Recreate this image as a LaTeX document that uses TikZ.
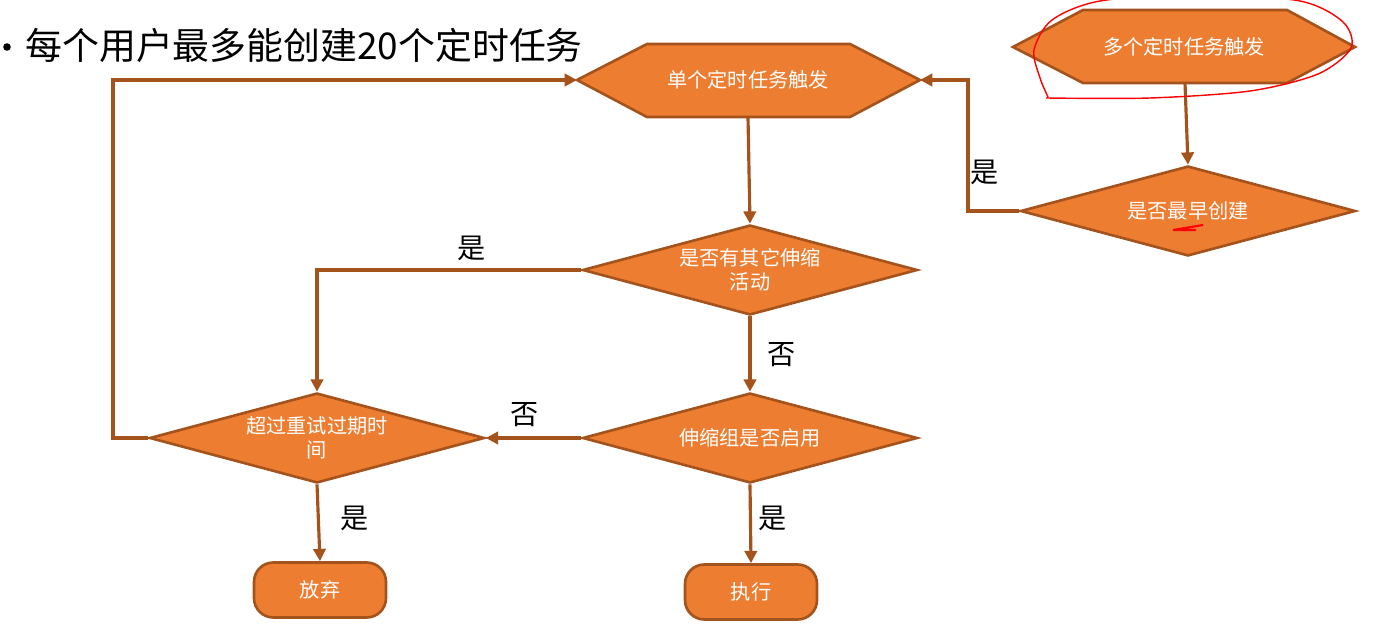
\documentclass[tikz,border=0pt]{standalone}
\usepackage{fontspec}
\setmainfont{Noto Sans CJK SC}
\usetikzlibrary{shapes.geometric,arrows.meta}

\definecolor{boxfill}{HTML}{ED7D31}
\definecolor{boxline}{HTML}{A5531C}

\tikzset{
  flow/.style={draw=boxline, line width=1.8pt, -{Triangle[length=7pt,width=7pt]}},
  shapeline/.style={draw=boxline, fill=boxfill, line width=1.5pt},
  decision/.style={diamond, shapeline, text=white, align=center, inner sep=0pt, shape aspect=4,
    font=\fontsize{11.5}{13.5}\selectfont, minimum width=6.7cm, minimum height=1.8cm},
  tasktext/.style={text=white, font=\fontsize{11.5}{13.5}\selectfont},
  endbox/.style={shapeline, rounded corners=11pt, text=white,
    font=\fontsize{11.5}{13.5}\selectfont, minimum width=2.64cm, minimum height=1.1cm},
  answer/.style={font=\fontsize{16}{18}\selectfont},
  scribble/.style={draw=red, line width=0.8pt}
}

\begin{document}
\begin{tikzpicture}[x=0.02cm, y=-0.02cm]
  \useasboundingbox (0,0) rectangle (1400,628);
  \fill (7,47) circle[radius=3.8];
  \node[anchor=west, inner sep=0pt, font=\fontsize{21}{24}\selectfont] (title) at (25,45)
    {每个用户最多能创建20个定时任务};

  %% hexagon points
  \coordinate (Sw) at (577, 80);
  \coordinate (Se) at (920, 80);
  \coordinate (Ss) at (748, 117);
  \coordinate (Mw) at (1013, 47);
  \coordinate (Me) at (1355, 47);
  \coordinate (Ms) at (1185, 83);
  \draw[shapeline] (Sw) -- (647, 44) -- (850, 44) -- (Se) -- (850, 117) -- (647, 117) -- cycle;
  \draw[shapeline] (Mw) -- (1083, 10) -- (1287, 10) -- (Me) -- (1287, 83) -- (1083, 83) -- cycle;
  \node[tasktext] (single) at (748, 80) {单个定时任务触发};
  \node[tasktext] (multi) at (1184, 47) {多个定时任务触发};

  \node[decision] (first) at (1188, 211) {是否最早创建};
  \node[decision] (other) at (750, 270) {是否有其它伸缩\\活动};
  \node[decision] (enabled) at (750, 438) {伸缩组是否启用};
  \node[decision] (expired) at (317, 438) {超过重试过期时\\间};
  \node[endbox] (giveup) at (320, 590) {放弃};
  \node[endbox] (run) at (751, 592) {执行};

  %% corners of the loops
  \coordinate (R1) at (968, 211);
  \coordinate (R2) at (968, 80);
  \coordinate (L1) at (317, 270);
  \coordinate (K1) at (113, 438);
  \coordinate (K2) at (113, 80);

  \draw[flow] (Ss) -- (other.north);
  \draw[flow] (Ms) -- (first.north);
  \draw[flow] (first.west) -- (R1) -- (R2) -- (Se);
  \draw[flow] (other.west) -- (L1) -- (expired.north);
  \draw[flow] (other.south) -- (enabled.north);
  \draw[flow] (enabled.west) -- (expired.east);
  \draw[flow] (enabled.south) -- (run.north);
  \draw[flow] (expired.south) -- (giveup.north);
  \draw[flow] (expired.west) -- (K1) -- (K2) -- (Sw);

  \node[answer] (yes1) at (985, 172) {是};
  \node[answer] (yes2) at (472, 248) {是};
  \node[answer] (no1) at (782, 355) {否};
  \node[answer] (no2) at (525, 415) {否};
  \node[answer] (yes3) at (773, 518) {是};
  \node[answer] (yes4) at (355, 518) {是};

  %% red marks on the slide
  \draw[scribble] plot[smooth] coordinates {(1048,97) (1040,78) (1034,50) (1052,20) (1100,1)
    (1200,-6) (1300,1) (1343,22) (1351,48) (1318,74) (1250,91) (1150,98) (1046,98)};
  \draw[scribble, line width=1.2pt] (1203,225) -- (1173,230) -- (1196,230);
\end{tikzpicture}
\end{document}
